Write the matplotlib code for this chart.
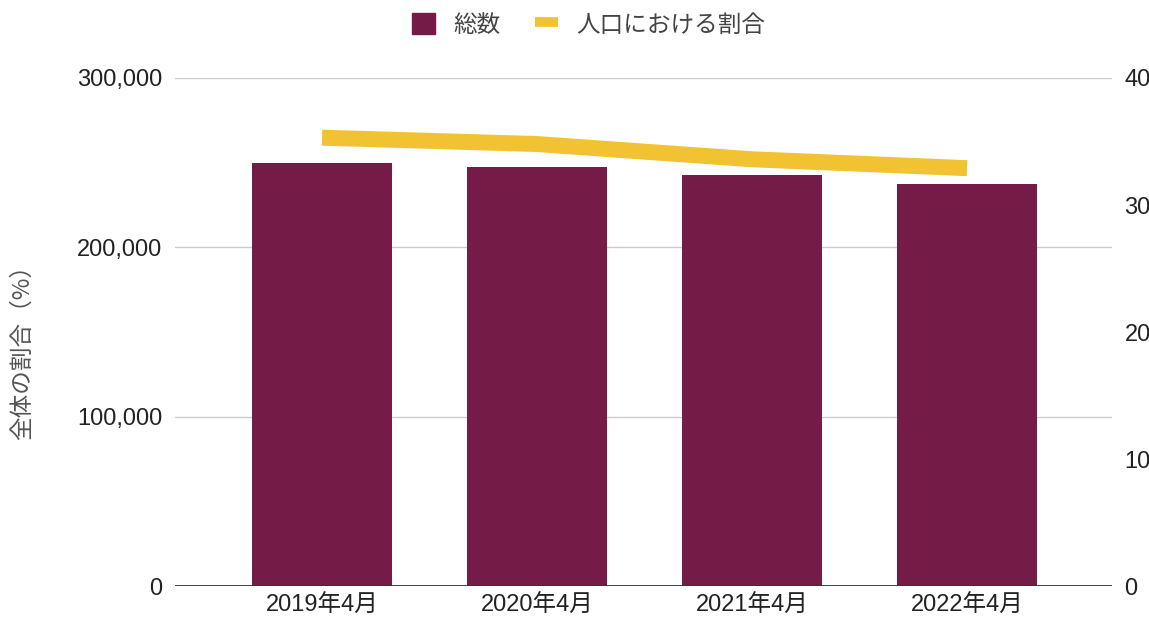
import matplotlib
matplotlib.use("Agg")
import matplotlib.pyplot as plt
from matplotlib.lines import Line2D
from matplotlib.patches import Patch
from matplotlib.ticker import FuncFormatter

plt.rcParams['font.family'] = ['Liberation Sans', 'Noto Sans CJK JP', 'DejaVu Sans']

months = ['2019年4月', '2020年4月', '2021年4月', '2022年4月']
totals = [249800, 247500, 242800, 237500]
ratio = [35.3, 34.8, 33.6, 32.9]

purple = '#741b47'
yellow = '#f1c232'
grid_c = '#cccccc'
text_c = '#222222'

fig = plt.figure(figsize=(11.49, 6.20), dpi=100)
ax = fig.add_axes([0.1523, 0.0548, 0.8155, 0.8194])
ax2 = ax.twinx()

x = range(len(months))
ax.bar(x, totals, width=0.65, color=purple, zorder=2)
ax2.plot(x, ratio, color=yellow, linewidth=11.5, solid_capstyle='butt', zorder=3)

ax.set_ylim(0, 300000)
ax.set_yticks([0, 100000, 200000, 300000])
ax.yaxis.set_major_formatter(FuncFormatter(lambda v, p: f'{int(v):,}'))
ax.grid(axis='y', color=grid_c, linewidth=1)
ax.set_axisbelow(True)
ax.set_xlim(-0.684, 3.674)
ax.set_xticks(list(x))
ax.set_xticklabels(months)

ax2.set_ylim(0, 40)
ax2.set_yticks([0, 10, 20, 30, 40])

for a in (ax, ax2):
    for s in ('top', 'left', 'right', 'bottom'):
        a.spines[s].set_visible(False)
    a.tick_params(length=0, labelsize=17, colors=text_c)
ax.axhline(0, color='#333333', linewidth=1.3, zorder=4)
ax.tick_params(axis='y', pad=9)
ax.tick_params(axis='x', pad=6)
ax2.tick_params(axis='y', pad=9)

ax.set_ylabel('全体の割合（%）', fontsize=17, color='#555555',
              family=['Noto Sans CJK JP', 'DejaVu Sans'])
ax.yaxis.set_label_coords(-0.151, 0.471)

handles = [Patch(facecolor=purple, edgecolor=purple),
           Line2D([0], [0], color=yellow, linewidth=7, solid_capstyle='butt')]
leg = fig.legend(handles, ['総数', '人口における割合'], loc='center',
                 bbox_to_anchor=(0.512, 0.96), ncol=2, frameon=False,
                 handlelength=1.0, handleheight=1.0,
                 columnspacing=1.45, handletextpad=0.75,
                 prop={'family': ['Noto Sans CJK JP', 'DejaVu Sans'], 'size': 17})
for t in leg.get_texts():
    t.set_color('#444444')

fig.savefig('out.png', dpi=100)
